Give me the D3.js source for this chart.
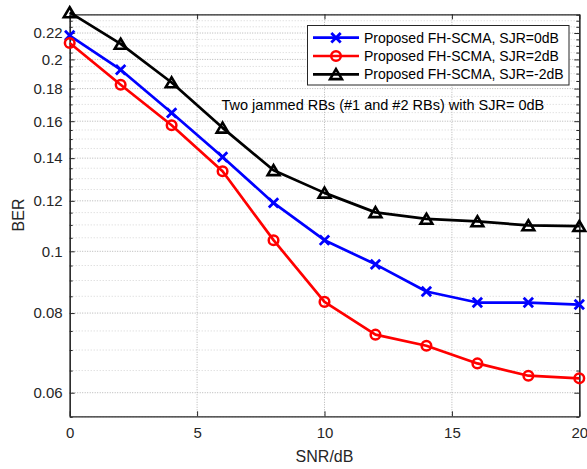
<!DOCTYPE html>
<html>
<head>
<meta charset="utf-8">
<script src="https://cdn.jsdelivr.net/npm/d3@7"></script>
<style>
  body { margin: 0; background: #fff; }
  svg { font-family: "Liberation Sans", Arial, sans-serif; }
</style>
</head>
<body>
<svg id="chart" width="587" height="469"></svg>
<script>
const snr = [0, 2, 4, 6, 8, 10, 12, 14, 16, 18, 20];
const berSjr0 = [0.218, 0.1927, 0.1649, 0.1406, 0.1191, 0.1041, 0.0954, 0.0865, 0.0831, 0.0831, 0.0825];
const berSjr2 = [0.2122, 0.1825, 0.1577, 0.1335, 0.1041, 0.0833, 0.0740, 0.0711, 0.0667, 0.0638, 0.0632];
const berSjrM2 = [0.237, 0.2115, 0.184, 0.1562, 0.134, 0.1235, 0.1151, 0.1124, 0.1114, 0.1098, 0.1095];
const seriesNames = ["Proposed FH-SCMA, SJR=0dB", "Proposed FH-SCMA, SJR=2dB", "Proposed FH-SCMA, SJR=-2dB"];
const xTicks = [0, 5, 10, 15, 20];
const yTicks = [0.06, 0.08, 0.1, 0.12, 0.14, 0.16, 0.18, 0.2, 0.22];
const yMinor = d3.range(11, 48).map(i => i * 0.005).filter(v => !yTicks.some(t => Math.abs(t - v) < 1e-9));
const note = "Two jammed RBs (#1 and #2 RBs) with SJR= 0dB";

const series = [
  { name: seriesNames[0], values: berSjr0, color: "#0000ff", marker: "x" },
  { name: seriesNames[1], values: berSjr2, color: "#ff0000", marker: "o" },
  { name: seriesNames[2], values: berSjrM2, color: "#000000", marker: "^" }
];

const svg = d3.select("#chart");
const margin = { top: 14.3, right: 7.7, bottom: 52.7, left: 69.7 };
const width = 587 - margin.left - margin.right;
const height = 469 - margin.top - margin.bottom;

const x = d3.scaleLinear().domain([0, 20]).range([0, width]);
const y = d3.scaleLog().domain([0.0551, 0.2354]).range([height, 0]);

const g = svg.append("g").attr("transform", `translate(${margin.left},${margin.top})`);

// grid
g.append("g").selectAll("line").data(yMinor).join("line")
  .attr("x1", 0).attr("x2", width)
  .attr("y1", d => y(d)).attr("y2", d => y(d))
  .attr("stroke", "#d4d4d4").attr("stroke-width", 1).attr("stroke-dasharray", "1,2");
g.append("g").selectAll("line").data(yTicks).join("line")
  .attr("x1", 0).attr("x2", width)
  .attr("y1", d => y(d)).attr("y2", d => y(d))
  .attr("stroke", "#b4b4b4").attr("stroke-width", 1).attr("stroke-dasharray", "1,1.5");
g.append("g").selectAll("line").data(xTicks.slice(1, -1)).join("line")
  .attr("x1", d => x(d)).attr("x2", d => x(d))
  .attr("y1", 0).attr("y2", height)
  .attr("stroke", "#b4b4b4").attr("stroke-width", 1).attr("stroke-dasharray", "1,1.5");

// axes
const axisColor = "#262626";
const yAxisL = g.append("g")
  .call(d3.axisLeft(y).tickValues(yTicks).tickFormat(d3.format("~g")).tickSizeInner(-5).tickSizeOuter(0).tickPadding(7));
const yAxisR = g.append("g").attr("transform", `translate(${width},0)`)
  .call(d3.axisRight(y).tickValues(yTicks).tickFormat("").tickSizeInner(-5).tickSizeOuter(0));
const yMinL = g.append("g")
  .call(d3.axisLeft(y).tickValues(yMinor).tickFormat("").tickSizeInner(-3).tickSizeOuter(0));
const yMinR = g.append("g").attr("transform", `translate(${width},0)`)
  .call(d3.axisRight(y).tickValues(yMinor).tickFormat("").tickSizeInner(-3).tickSizeOuter(0));
const xAxisB = g.append("g").attr("transform", `translate(0,${height})`)
  .call(d3.axisBottom(x).tickValues(xTicks).tickSizeInner(-5).tickSizeOuter(0).tickPadding(11));
const xAxisT = g.append("g")
  .call(d3.axisTop(x).tickValues(xTicks).tickFormat("").tickSizeInner(-5).tickSizeOuter(0));

[yAxisL, yAxisR, yMinL, yMinR, xAxisB, xAxisT].forEach(a => {
  a.select(".domain").attr("stroke", axisColor).attr("stroke-width", 1.2);
  a.selectAll(".tick line").attr("stroke", axisColor);
  a.selectAll("text").attr("fill", "#262626").style("font-size", "15px").style("font-family", "Liberation Sans, Arial, sans-serif");
});

// lines
const line = d3.line().x((d, i) => x(snr[i])).y(d => y(d));
series.forEach(s => {
  g.append("path").datum(s.values)
    .attr("fill", "none").attr("stroke", s.color).attr("stroke-width", 2.7)
    .attr("stroke-linejoin", "round").attr("d", line);
});

function drawMarker(sel, type, color) {
  if (type === "x") {
    sel.append("path").attr("d", "M-4.7,-4.7L4.7,4.7M-4.7,4.7L4.7,-4.7")
      .attr("stroke", color).attr("stroke-width", 2.8).attr("fill", "none");
  } else if (type === "o") {
    sel.append("circle").attr("r", 4.8)
      .attr("stroke", color).attr("stroke-width", 2.5).attr("fill", "none");
  } else {
    sel.append("path").attr("d", "M0,-5.2L5.9,4.8L-5.9,4.8Z")
      .attr("stroke", color).attr("stroke-width", 2.6).attr("stroke-linejoin", "miter").attr("fill", "none");
  }
}

series.forEach(s => {
  g.append("g").selectAll("g").data(s.values).join("g")
    .attr("transform", (d, i) => `translate(${x(snr[i])},${y(d)})`)
    .each(function () { drawMarker(d3.select(this), s.marker, s.color); });
});

// axis labels
svg.append("text").attr("x", margin.left + width / 2).attr("y", 462)
  .attr("text-anchor", "middle").attr("fill", "#262626").style("font-size", "16px").text("SNR/dB");
svg.append("text").attr("transform", "translate(24,215) rotate(-90)")
  .attr("text-anchor", "middle").attr("fill", "#262626").style("font-size", "16px").text("BER");

// annotation
svg.append("text").attr("x", 221.5).attr("y", 110)
  .attr("fill", "#000").style("font-size", "14.5px").text(note);

// legend
const leg = svg.append("g");
leg.append("rect").attr("x", 307.5).attr("y", 25.5).attr("width", 261.5).attr("height", 59.5)
  .attr("fill", "#fff").attr("stroke", "#262626").attr("stroke-width", 1);
const rowY = [37.7, 56, 74.3];
series.forEach((s, i) => {
  const row = leg.append("g").attr("transform", `translate(0,${rowY[i]})`);
  row.append("line").attr("x1", 313).attr("x2", 359).attr("y1", 0).attr("y2", 0)
    .attr("stroke", s.color).attr("stroke-width", 2.7);
  const m = row.append("g").attr("transform", "translate(336,0)");
  drawMarker(m, s.marker, s.color);
  row.append("text").attr("x", 364).attr("y", 5).attr("fill", "#000")
    .style("font-size", "14px").text(s.name);
});
</script>
</body>
</html>
